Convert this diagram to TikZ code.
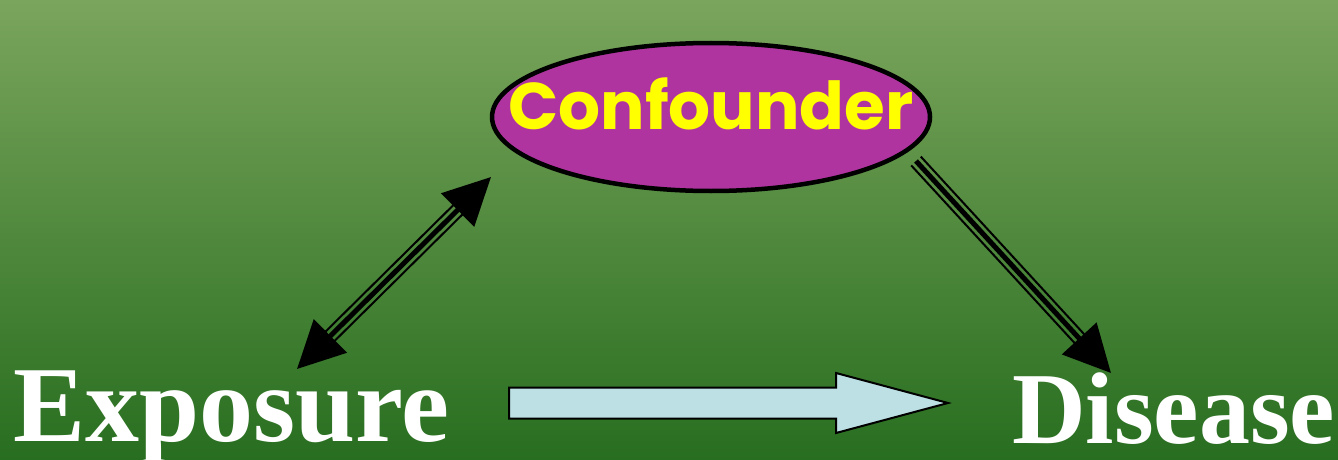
\documentclass[tikz,border=0pt]{standalone}
\usepackage{fontspec}
\setmainfont{Liberation Serif}
\newfontfamily\cnffont{Poppins}
\usetikzlibrary{arrows.meta,calc,shapes.geometric,shapes.arrows}

\definecolor{bgtop}{RGB}{122,165,92}
\definecolor{bgmid}{RGB}{78,138,60}
\definecolor{bgbot}{RGB}{40,110,32}
\definecolor{cnfpurple}{RGB}{176,52,160}
\definecolor{cnfyellow}{RGB}{255,255,0}
\definecolor{causeblue}{RGB}{188,224,228}

\begin{document}
\begin{tikzpicture}[x=1pt, y=1pt,
    cnfbox/.style={ellipse, draw=black, line width=4.5pt, fill=cnfpurple,
      minimum width=438pt, minimum height=148pt, inner sep=0pt},
    cnftext/.style={text=cnfyellow, inner sep=0pt, anchor=base,
      font=\cnffont\bfseries\fontsize{66}{66}\selectfont},
    word/.style={text=white, inner sep=0pt, anchor=base west},
    causearrow/.style={single arrow, draw=black, line width=2pt, fill=causeblue,
      minimum height=439pt, inner xsep=0pt, inner ysep=14.5pt,
      single arrow head extend=14.5pt, single arrow tip angle=30},
    thickline/.style={line width=5pt},
    thinline/.style={line width=2pt}]

    \useasboundingbox (0,0) rectangle (1338,-460);
    % background
    \shade[top color=bgtop, middle color=bgmid, bottom color=bgbot]
      (0,0) rectangle (1338,-460);

    % nodes
    \node[cnfbox] (cnf) at (711,-117) {};
    \node[cnftext] (cnfLabel) at (711,-129) {Confounder};
    \node[word, font=\bfseries\fontsize{108}{108}\selectfont] (exp) at (13,-441) {Exposure};
    \node[word, font=\bfseries\fontsize{102}{102}\selectfont] (dis) at (1012,-443) {Disease};

    % arrow ends
    \coordinate (expTip) at (297,-369);
    \coordinate (cnfTip) at (491,-177);
    \coordinate (cnfTail) at (916,-161);
    \coordinate (disTip) at (1111,-373);

    % exposure <-> confounder
    \draw[thickline, {Triangle[length=47pt, width=46pt]}-{Triangle[length=47pt, width=46pt]}]
      (expTip) -- (cnfTip);
    \foreach \a/\b in {90/-90,-90/90}
      \draw[thinline, shorten <=44pt, shorten >=44pt]
        ($(expTip)!6.5pt!\a:(cnfTip)$) -- ($(cnfTip)!6.5pt!\b:(expTip)$);

    % confounder -> disease
    \draw[thickline, -{Triangle[length=47pt, width=46pt]}] (cnfTail) -- (disTip);
    \foreach \a/\b in {90/-90,-90/90}
      \draw[thinline, shorten >=44pt]
        ($(cnfTail)!6.5pt!\a:(disTip)$) -- ($(disTip)!6.5pt!\b:(cnfTail)$);

    % exposure -> disease
    \node[causearrow, anchor=tail] (cause) at (508,-403) {};

\end{tikzpicture}
\end{document}
